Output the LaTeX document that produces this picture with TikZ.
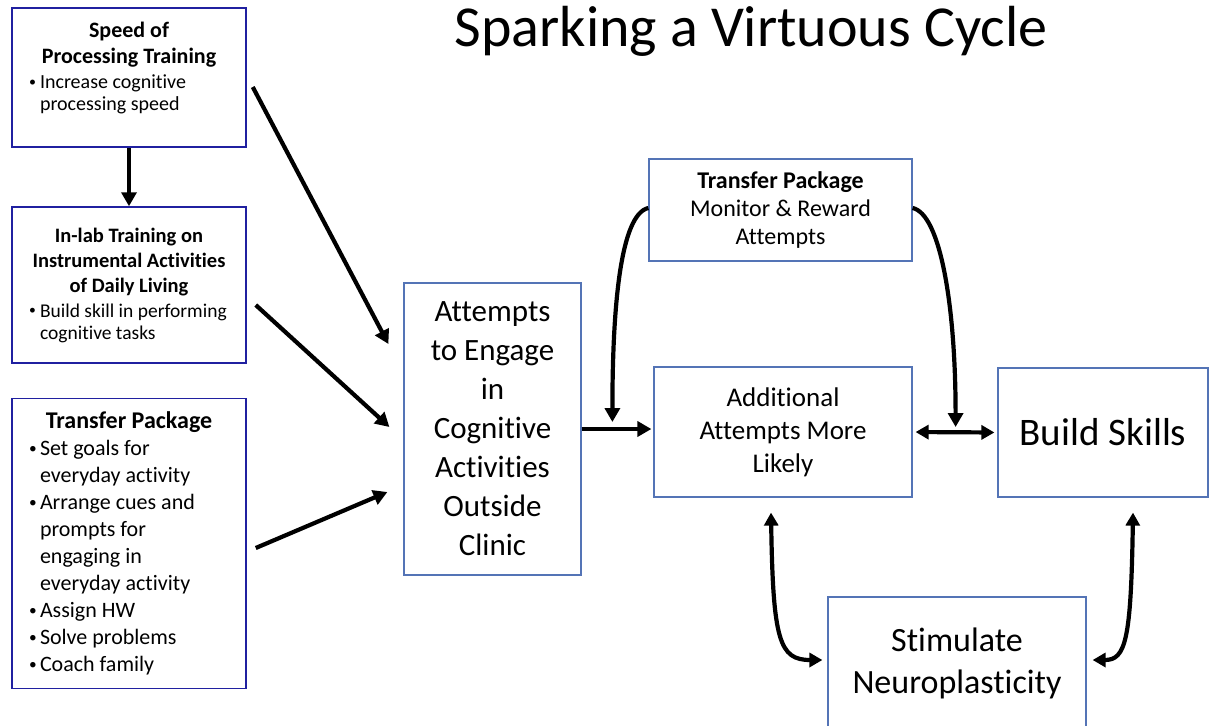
\documentclass[tikz,border=0pt]{standalone}
\usepackage{fontspec}
\setmainfont[Ligatures = {NoCommon, NoRequired, NoContextual}, RawFeature = {-liga;-clig;-calt}]{Carlito}
\usepackage{tikz}
\usetikzlibrary{positioning}
\usetikzlibrary{calc}
\usetikzlibrary{arrows.meta}
\definecolor{boxdark}{RGB}{32,32,160}
\definecolor{boxlight}{RGB}{84,116,182}
\newcommand{\bul}{\makebox[12pt][l]{\hspace{1pt}\raisebox{0.12em}{\scalebox{0.7}{\textbullet}}}}
\newcommand{\bulline}{\par\hangindent=12pt\hangafter=1\noindent\bul}
\tikzset{
  box_left/.style={rectangle, draw = boxdark, line width = 1.5pt, inner sep = 0, align = center},
  box_right/.style={rectangle, draw = boxlight, line width = 1.2pt, inner sep = 0, align = center},
  arrow_straight/.style={-{Triangle[length = 14pt, width = 15pt]}, line width = 4.2pt, color = black},
  arrow_double/.style={{Triangle[length = 13pt, width = 14pt]}-{Triangle[length = 13pt, width = 14pt]}, line width = 4.2pt, color = black}}
\begin{document}
\begin{tikzpicture}[x = 1pt, y = -1pt]
\useasboundingbox (0,0) rectangle (1209,725);

\node[draw = none, anchor = base, font = \fontsize{58}{60}\selectfont] at (751,47) (title) {Sparking a Virtuous Cycle};

%% left column
\node[box_left, minimum width = 234pt, minimum height = 139pt] at (129,77.5) (speed) {\parbox{202pt}{\centering\fontsize{22}{26}\selectfont\bfseries Speed of\\Processing Training\par
  \vspace{3pt}\raggedright\fontsize{20}{22}\selectfont\mdseries
  \bulline Increase cognitive\newline processing speed\par\vspace*{19pt}}};
\node[box_left, minimum width = 234pt, minimum height = 156pt] at (129,285) (inlab) {\parbox{202pt}{\centering\fontsize{20.5}{25}\selectfont\bfseries In-lab Training on\\Instrumental Activities\\of Daily Living\par
  \vspace{3pt}\raggedright\fontsize{19.5}{22}\selectfont\mdseries
  \bulline Build skill in performing\newline cognitive tasks\par}};
\node[box_left, minimum width = 234pt, minimum height = 290pt] at (129,543.5) (transfer) {\parbox{202pt}{\centering\fontsize{24}{27}\selectfont\bfseries Transfer Package\par
  \raggedright\fontsize{22}{27}\selectfont\mdseries
  \bulline Set goals for\newline everyday activity
  \bulline Arrange cues and\newline prompts for\newline engaging in\newline everyday activity
  \bulline Assign HW
  \bulline Solve problems
  \bulline Coach family\par}};

%% right part
\node[box_right, minimum width = 177pt, minimum height = 292pt, font = \fontsize{31}{39}\selectfont] at (492.5,429) (attempts) {Attempts\\to Engage\\in\\Cognitive\\Activities\\Outside\\Clinic};
\node[box_right, minimum width = 263pt, minimum height = 102pt, font = \fontsize{24}{28}\selectfont] at (780.5,210) (monitor) {\textbf{Transfer Package}\\Monitor \& Reward\\Attempts};
\node[box_right, minimum width = 258pt, minimum height = 130pt, font = \fontsize{27}{33}\selectfont] at (783,432) (additional) {Additional\\Attempts More\\Likely};
\node[box_right, minimum width = 210pt, minimum height = 129pt, font = \fontsize{39}{44}\selectfont] at (1103,432.5) (build) {Build Skills};
\node[box_right, minimum width = 258pt, minimum height = 133pt, font = \fontsize{34}{42}\selectfont] at (957,663.5) (stimulate) {Stimulate\\Neuroplasticity};

%% arrows
\draw[arrow_straight] (speed.south) -- (inlab.north);
\draw[arrow_straight] ($(speed.east)+(6,9.5)$) -- ($(attempts.west)+(-15,-85)$);
\draw[arrow_straight] ($(inlab.east)+(9,20)$) -- ($(attempts.west)+(-14,-2)$);
\draw[arrow_straight] ($(transfer.east)+(9,4.5)$) -- ($(attempts.west)+(-16,63)$);

\draw[arrow_straight, shorten >= 2pt] (attempts.east) -- (attempts.east -| additional.west);
\draw[arrow_straight] ($(monitor.west)+(0,-2)$) .. controls +(-28,6) and +(0,-115) .. ($(additional.west)+(-41,-10)$);
\draw[arrow_straight] ($(monitor.east)+(0,-2)$) .. controls +(28,6) and +(0,-120) .. ($(additional.east)+(43,-5)$);

\draw[arrow_double, shorten >= 3pt, shorten <= 3pt] (additional.east) -- (build.west);
\draw[arrow_double] ($(additional.south)+(-12,15)$) .. controls +(2,128) and +(-43,0) .. ($(stimulate.west)+(-5,-3.5)$);
\draw[arrow_double] ($(build.south)+(30,15)$) .. controls +(-2,128) and +(33,0) .. ($(stimulate.east)+(6,-3.5)$);

\end{tikzpicture}
\end{document}
